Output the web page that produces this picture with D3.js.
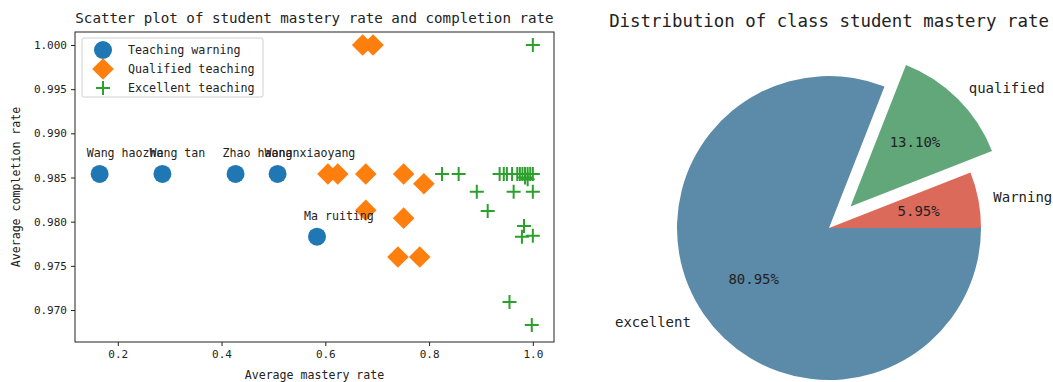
<!DOCTYPE html>
<html>
<head>
<meta charset="utf-8">
<script src="https://cdn.jsdelivr.net/npm/d3@7"></script>
<style>
body { margin: 0; background: #fff; }
text { font-family: "DejaVu Sans Mono", "Liberation Mono", monospace; fill: #222; }
</style>
</head>
<body>
<script>
// scatter data: [mastery, completion]
var warningPts = [[0.165,0.9854],[0.286,0.9854],[0.427,0.9854],[0.508,0.9854],[0.584,0.9783]];
var warningNames = ["Wang haozhe","Wang tan","Zhao haonan","Wang xiaoyang","Ma ruiting"];
var qualifiedPts = [[0.672,1.0],[0.692,1.0],[0.605,0.9854],[0.624,0.9854],[0.678,0.9854],[0.751,0.9854],
    [0.790,0.9843],[0.678,0.9813],[0.751,0.9804],[0.740,0.9760],[0.782,0.9760]];
var excellentPts = [[1.0,1.0],[0.825,0.9854],[0.857,0.9854],[0.936,0.9854],[0.944,0.9854],[0.950,0.9854],
    [0.960,0.9854],[0.970,0.9854],[0.975,0.9854],[0.980,0.9854],[0.985,0.9854],[0.990,0.9854],[0.995,0.9854],
    [1.0,0.9854],[0.985,0.9850],[0.990,0.9848],[0.892,0.9834],[0.963,0.9834],[1.0,0.9834],[0.913,0.9812],
    [0.983,0.9795],[0.979,0.9783],[1.0,0.9784],[0.955,0.9709],[0.998,0.9683]];
var xTicks = [0.2,0.4,0.6,0.8,1.0];
var yTicks = [0.970,0.975,0.980,0.985,0.990,0.995,1.000];
var legendLabels = ["Teaching warning","Qualified teaching","Excellent teaching"];
var markerColors = ["#1f77b4","#ff7f0e","#2ca02c"];

// pie data
var pieLabels = ["Warning","qualified","excellent"];
var pieValues = [5.95,13.10,80.95];
var pieExplode = [0,0.2,0];
var pieColors = ["#dc6a5b","#62a77a","#5b8ba9"];

var width = 1053, height = 382;
var svg = d3.select("body").append("svg")
    .attr("width", width)
    .attr("height", height);

// ---------- scatter ----------
var axL = 75, axR = 554, axT = 32, axB = 342;
var x = d3.scaleLinear().domain([0.1175, 1.0408]).range([axL, axR]);
var y = d3.scaleLinear().domain([0.96638, 1.00147]).range([axB, axT]);

var g = svg.append("g");

g.append("text")
    .attr("x", (axL + axR) / 2).attr("y", 23)
    .attr("text-anchor", "middle")
    .style("font-size", "14.2px")
    .text("Scatter plot of student mastery rate and completion rate");

var xAxis = g.append("g").attr("transform", "translate(0," + axB + ")")
    .call(d3.axisBottom(x).tickValues(xTicks).tickFormat(d3.format(".1f")).tickSize(4).tickPadding(4));
var yAxis = g.append("g").attr("transform", "translate(" + axL + ",0)")
    .call(d3.axisLeft(y).tickValues(yTicks).tickFormat(d3.format(".3f")).tickSize(4).tickPadding(4));
[xAxis, yAxis].forEach(function(a){
    a.select(".domain").remove();
    a.selectAll("text").style("font-size", "11px").attr("fill", "#222");
    a.selectAll("line").attr("stroke", "#222");
});

g.append("rect")
    .attr("x", axL).attr("y", axT)
    .attr("width", axR - axL).attr("height", axB - axT)
    .attr("fill", "none").attr("stroke", "#222").attr("stroke-width", 1);

g.append("text")
    .attr("x", (axL + axR) / 2).attr("y", 379)
    .attr("text-anchor", "middle")
    .style("font-size", "11.6px")
    .text("Average mastery rate");
g.append("text")
    .attr("transform", "translate(20," + ((axT + axB) / 2) + ") rotate(-90)")
    .attr("text-anchor", "middle")
    .style("font-size", "11.6px")
    .text("Average completion rate");

var diamond = function(s){ return "M0," + (-s) + "L" + s + ",0L0," + s + "L" + (-s) + ",0Z"; };
var plus = function(s){ return "M" + (-s) + ",0H" + s + "M0," + (-s) + "V" + s; };

g.selectAll(".warn").data(warningPts).enter().append("circle")
    .attr("class", "warn")
    .attr("cx", d => x(d[0])).attr("cy", d => y(d[1]))
    .attr("r", 9).attr("fill", markerColors[0]);

g.selectAll(".qual").data(qualifiedPts).enter().append("path")
    .attr("class", "qual")
    .attr("transform", d => "translate(" + x(d[0]) + "," + y(d[1]) + ")")
    .attr("d", diamond(10.8)).attr("fill", markerColors[1]);

g.selectAll(".exc").data(excellentPts).enter().append("path")
    .attr("class", "exc")
    .attr("transform", d => "translate(" + x(d[0]) + "," + y(d[1]) + ")")
    .attr("d", plus(7)).attr("fill", "none")
    .attr("stroke", markerColors[2]).attr("stroke-width", 2);

g.selectAll(".name").data(warningPts).enter().append("text")
    .attr("class", "name")
    .attr("x", d => x(d[0] - 0.025)).attr("y", d => y(d[1] + 0.0019))
    .style("font-size", "11.6px")
    .text((d, i) => warningNames[i]);

// legend
var leg = g.append("g").attr("transform", "translate(82,38)");
leg.append("rect").attr("width", 181).attr("height", 59).attr("rx", 2)
    .attr("fill", "#fff").attr("fill-opacity", 0.8).attr("stroke", "#d0d0d0");
leg.append("circle").attr("cx", 21).attr("cy", 12).attr("r", 9).attr("fill", markerColors[0]);
leg.append("path").attr("transform", "translate(21,31)").attr("d", diamond(10.8)).attr("fill", markerColors[1]);
leg.append("path").attr("transform", "translate(21,50)").attr("d", plus(7))
    .attr("stroke", markerColors[2]).attr("stroke-width", 2).attr("fill", "none");
leg.selectAll(".lt").data(legendLabels).enter().append("text")
    .attr("class", "lt")
    .attr("x", 46).attr("y", (d, i) => 12 + i * 19)
    .attr("dy", "0.35em")
    .style("font-size", "11.7px")
    .text(d => d);

// ---------- pie ----------
var cx = 829, cy = 228, r = 152;
var pg = svg.append("g").attr("transform", "translate(" + cx + "," + cy + ")");

svg.append("text")
    .attr("x", cx).attr("y", 27)
    .attr("text-anchor", "middle")
    .style("font-size", "17.4px")
    .text("Distribution of class student mastery rate");

// counter-clockwise from east, like matplotlib
var pie = d3.pie().sort(null).startAngle(Math.PI / 2).endAngle(Math.PI / 2 - 2 * Math.PI);
var arcs = pie(pieValues);
var arc = d3.arc().innerRadius(0).outerRadius(r);

function offset(d, i, dist) {
    var a = (d.startAngle + d.endAngle) / 2;
    var e = pieExplode[i] * r;
    return [Math.sin(a) * (e + dist), -Math.cos(a) * (e + dist)];
}

pg.selectAll(".slice").data(arcs).enter().append("path")
    .attr("class", "slice")
    .attr("transform", (d, i) => { var o = offset(d, i, 0); return "translate(" + o[0] + "," + o[1] + ")"; })
    .attr("d", arc)
    .attr("fill", (d, i) => pieColors[i]);

pg.selectAll(".pct").data(arcs).enter().append("text")
    .attr("class", "pct")
    .attr("x", (d, i) => offset(d, i, 0.6 * r)[0])
    .attr("y", (d, i) => offset(d, i, 0.6 * r)[1])
    .attr("dy", "0.35em")
    .attr("text-anchor", "middle")
    .style("font-size", "14px")
    .text(d => d.data.toFixed(2) + "%");

pg.selectAll(".plab").data(arcs).enter().append("text")
    .attr("class", "plab")
    .attr("x", (d, i) => offset(d, i, 1.1 * r)[0])
    .attr("y", (d, i) => offset(d, i, 1.1 * r)[1])
    .attr("dy", "0.35em")
    .attr("text-anchor", (d, i) => offset(d, i, 1.1 * r)[0] > 0 ? "start" : "end")
    .style("font-size", "14px")
    .text((d, i) => pieLabels[i]);
</script>
</body>
</html>
